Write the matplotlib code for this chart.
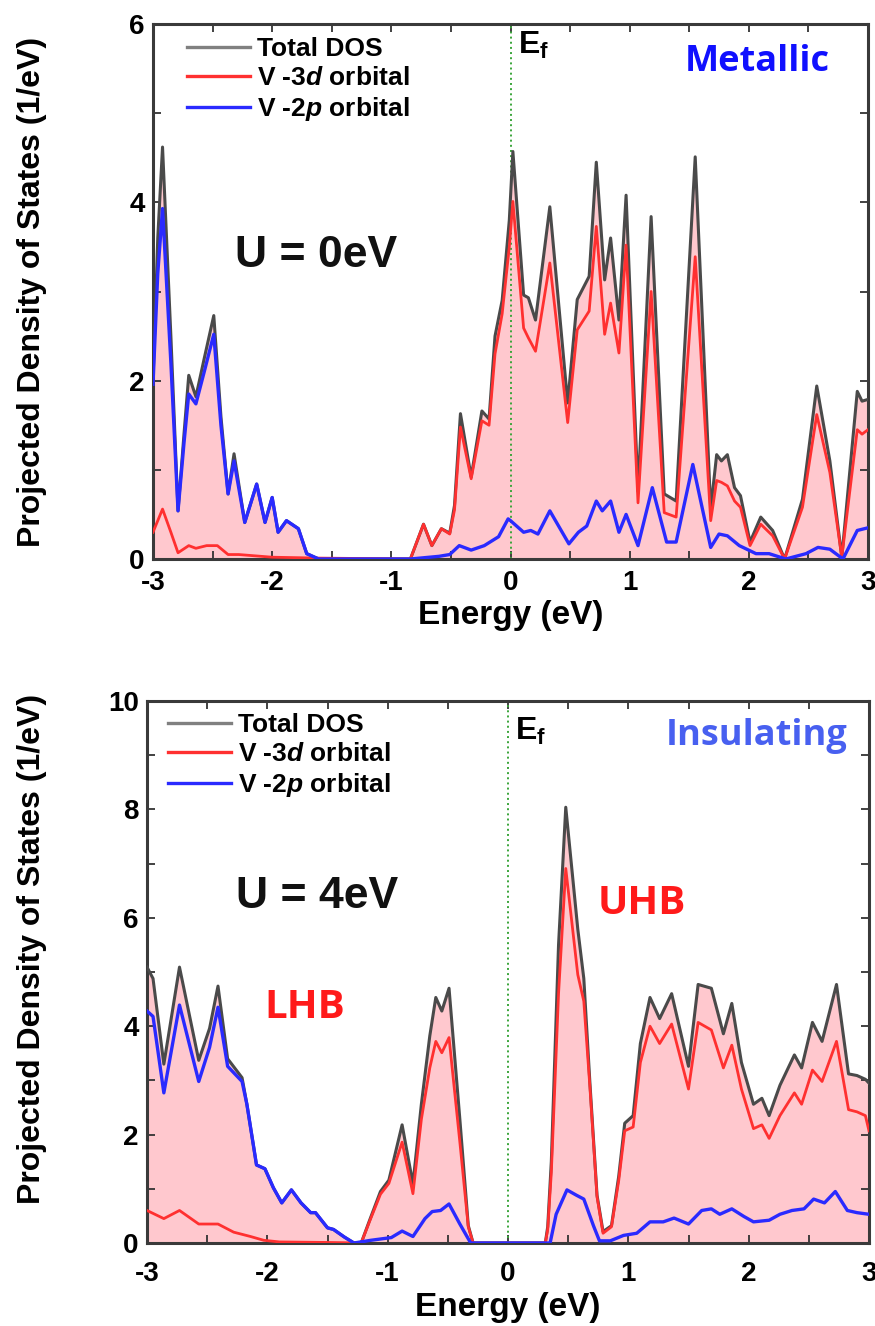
import matplotlib
matplotlib.use("Agg")
import matplotlib.pyplot as plt
from matplotlib.ticker import MultipleLocator

plt.rcParams['font.family'] = ['Liberation Sans', 'DejaVu Sans']
plt.rcParams['font.weight'] = 'bold'
plt.rcParams['mathtext.fontset'] = 'custom'
plt.rcParams['mathtext.it'] = 'Liberation Sans:italic:bold'
plt.rcParams['mathtext.rm'] = 'Liberation Sans:bold'

# ---------------- Top panel (U = 0 eV) ----------------
top_total_x = [-3.00, -2.96, -2.92, -2.85, -2.79, -2.74, -2.70, -2.64, -2.57, -2.49, -2.43, -2.37,
               -2.32, -2.23, -2.13, -2.06, -2.00, -1.95, -1.88, -1.78, -1.71, -1.61, -0.84, -0.73,
               -0.66, -0.58, -0.51, -0.47, -0.42, -0.33, -0.24, -0.18, -0.13, -0.07, -0.01, 0.02,
               0.11, 0.15, 0.21, 0.33, 0.48, 0.56, 0.66, 0.72, 0.79, 0.84, 0.91, 0.97, 1.07, 1.18,
               1.29, 1.39, 1.55, 1.68, 1.73, 1.77, 1.82, 1.88, 1.93, 2.01, 2.10, 2.20, 2.30, 2.45,
               2.57, 2.68, 2.78, 2.91, 2.95, 3.00]
top_total_y = [2.00, 3.60, 4.62, 2.50, 0.54, 1.40, 2.06, 1.82, 2.25, 2.73, 1.60, 0.73,
               1.18, 0.41, 0.84, 0.41, 0.69, 0.30, 0.43, 0.34, 0.06, 0.00, 0.00, 0.39,
               0.15, 0.34, 0.29, 0.60, 1.63, 0.92, 1.66, 1.57, 2.50, 2.90, 3.80, 4.57,
               2.96, 2.93, 2.68, 3.95, 1.75, 2.91, 3.17, 4.45, 3.13, 3.60, 2.68, 4.08, 0.76, 3.84,
               0.73, 0.65, 4.51, 0.56, 1.17, 1.10, 1.17, 0.80, 0.71, 0.19, 0.47, 0.32, 0.00, 0.67,
               1.94, 1.10, 0.02, 1.88, 1.77, 1.79]

top_d_x = [-3.00, -2.92, -2.85, -2.79, -2.70, -2.64, -2.55, -2.46, -2.37, -2.28, -2.00, -1.60,
           -0.84, -0.73, -0.66, -0.58, -0.51, -0.47, -0.42, -0.33, -0.24, -0.18, -0.13, -0.07,
           -0.01, 0.02, 0.11, 0.15, 0.21, 0.33, 0.48, 0.56, 0.66, 0.72, 0.79, 0.84, 0.91, 0.97,
           1.07, 1.18, 1.29, 1.39, 1.55, 1.68, 1.73, 1.77, 1.82, 1.88, 1.93, 2.01, 2.10, 2.20,
           2.30, 2.45, 2.57, 2.68, 2.78, 2.91, 2.95, 3.00]
top_d_y = [0.30, 0.56, 0.30, 0.07, 0.15, 0.12, 0.15, 0.15, 0.05, 0.05, 0.02, 0.01,
           0.00, 0.39, 0.15, 0.34, 0.28, 0.55, 1.48, 0.90, 1.55, 1.50, 2.30, 2.75,
           3.50, 4.01, 2.59, 2.48, 2.33, 3.32, 1.53, 2.57, 2.78, 3.73, 2.52, 2.87, 2.31, 3.52,
           0.63, 3.00, 0.52, 0.47, 3.39, 0.43, 0.88, 0.86, 0.82, 0.65, 0.58, 0.15, 0.39, 0.26,
           0.00, 0.58, 1.62, 0.97, 0.02, 1.45, 1.40, 1.45]

top_p_x = [-3.00, -2.96, -2.92, -2.85, -2.79, -2.74, -2.70, -2.64, -2.57, -2.49, -2.43, -2.37,
           -2.32, -2.23, -2.13, -2.06, -2.00, -1.95, -1.88, -1.78, -1.71, -1.61, -0.84, -0.60,
           -0.51, -0.43, -0.33, -0.22, -0.10, -0.02, 0.00, 0.11, 0.17, 0.23, 0.33, 0.49, 0.57,
           0.64, 0.72, 0.77, 0.84, 0.91, 0.97, 1.07, 1.19, 1.31, 1.39, 1.53, 1.68, 1.75, 1.82,
           1.92, 2.06, 2.17, 2.31, 2.48, 2.58, 2.68, 2.79, 2.91, 3.00]
top_p_y = [1.96, 3.20, 3.93, 2.20, 0.54, 1.30, 1.85, 1.74, 2.10, 2.52, 1.50, 0.73,
           1.10, 0.41, 0.84, 0.41, 0.69, 0.30, 0.43, 0.34, 0.06, 0.00, 0.00, 0.03,
           0.05, 0.15, 0.10, 0.15, 0.25, 0.45, 0.43, 0.30, 0.32, 0.28, 0.54, 0.17, 0.30,
           0.37, 0.65, 0.54, 0.65, 0.30, 0.50, 0.15, 0.80, 0.19, 0.19, 1.06, 0.13, 0.28, 0.26,
           0.15, 0.06, 0.06, 0.00, 0.06, 0.13, 0.11, 0.00, 0.32, 0.35]

# ---------------- Bottom panel (U = 4 eV) ----------------
bot_total_x = [-3.00, -2.95, -2.86, -2.73, -2.57, -2.48, -2.41, -2.33, -2.21, -2.17, -2.09, -2.02,
               -1.95, -1.88, -1.80, -1.72, -1.64, -1.60, -1.50, -1.45, -1.36, -1.28, -1.22, -1.15,
               -1.06, -0.99, -0.88, -0.79, -0.72, -0.65, -0.60, -0.55, -0.49, -0.40, -0.33, -0.29,
               0.31, 0.33, 0.36, 0.42, 0.48, 0.58, 0.63, 0.68, 0.74, 0.79, 0.86, 0.92, 0.97, 1.04,
               1.10, 1.18, 1.26, 1.36, 1.50, 1.58, 1.69, 1.79, 1.86, 1.94, 2.04, 2.11, 2.17, 2.26,
               2.38, 2.44, 2.53, 2.61, 2.73, 2.83, 2.90, 2.97, 3.00]
bot_total_y = [5.09, 4.88, 3.30, 5.09, 3.37, 3.96, 4.74, 3.40, 3.05, 2.56, 1.44, 1.37,
               1.02, 0.74, 0.98, 0.74, 0.56, 0.56, 0.28, 0.25, 0.11, 0.00, 0.00, 0.42,
               0.95, 1.16, 2.18, 1.09, 2.56, 3.82, 4.53, 4.28, 4.70, 2.28, 0.32, 0.00,
               0.00, 0.30, 1.50, 5.50, 8.04, 5.79, 4.88, 2.98, 0.88, 0.21, 0.32, 1.23, 2.21, 2.35,
               3.68, 4.53, 4.14, 4.60, 3.26, 4.77, 4.70, 3.86, 4.42, 3.33, 2.56, 2.67, 2.35, 2.91,
               3.47, 3.23, 4.07, 3.72, 4.77, 3.12, 3.09, 3.02, 2.95]

bot_d_x = [-3.00, -2.86, -2.73, -2.57, -2.41, -2.28, -2.14, -2.03, -1.90, -1.50, -1.22, -1.15,
           -1.06, -0.99, -0.88, -0.79, -0.72, -0.65, -0.60, -0.55, -0.49, -0.40, -0.33, -0.29,
           0.31, 0.33, 0.36, 0.42, 0.48, 0.58, 0.63, 0.68, 0.74, 0.79, 0.86, 0.92, 0.97, 1.04,
           1.10, 1.18, 1.26, 1.36, 1.50, 1.58, 1.69, 1.79, 1.86, 1.94, 2.04, 2.11, 2.17, 2.26,
           2.38, 2.44, 2.53, 2.61, 2.73, 2.83, 2.90, 2.97, 3.00]
bot_d_y = [0.60, 0.45, 0.60, 0.35, 0.35, 0.20, 0.12, 0.05, 0.02, 0.01, 0.00, 0.40,
           0.90, 1.10, 1.86, 0.91, 2.28, 3.23, 3.72, 3.51, 3.79, 1.86, 0.30, 0.00,
           0.00, 0.25, 1.30, 4.60, 6.91, 4.95, 4.46, 2.90, 0.85, 0.18, 0.30, 1.15, 2.07, 2.14,
           3.33, 4.00, 3.68, 4.04, 2.84, 4.07, 3.93, 3.23, 3.65, 2.84, 2.11, 2.18, 1.93, 2.35,
           2.77, 2.56, 3.19, 2.98, 3.72, 2.46, 2.42, 2.35, 2.07]

bot_p_x = [-3.00, -2.95, -2.86, -2.73, -2.57, -2.48, -2.41, -2.33, -2.21, -2.17, -2.09, -2.02,
           -1.95, -1.88, -1.80, -1.72, -1.64, -1.60, -1.50, -1.45, -1.36, -1.28, -1.14, -0.97,
           -0.88, -0.79, -0.69, -0.63, -0.56, -0.49, -0.40, -0.31, 0.35, 0.40, 0.49, 0.57, 0.63,
           0.71, 0.76, 0.85, 0.96, 1.07, 1.18, 1.29, 1.38, 1.50, 1.61, 1.69, 1.76, 1.86, 1.96,
           2.04, 2.17, 2.26, 2.36, 2.46, 2.54, 2.63, 2.72, 2.82, 2.90, 3.00]
bot_p_y = [4.28, 4.18, 2.77, 4.39, 2.98, 3.61, 4.35, 3.26, 2.98, 2.56, 1.44, 1.37,
           1.02, 0.74, 0.98, 0.74, 0.56, 0.56, 0.28, 0.25, 0.11, 0.00, 0.05, 0.10,
           0.22, 0.12, 0.45, 0.58, 0.60, 0.72, 0.35, 0.00, 0.00, 0.53, 0.98, 0.88, 0.81,
           0.32, 0.04, 0.04, 0.14, 0.18, 0.39, 0.39, 0.46, 0.35, 0.60, 0.63, 0.53, 0.63, 0.49,
           0.39, 0.42, 0.53, 0.60, 0.63, 0.81, 0.74, 0.95, 0.60, 0.56, 0.53]

legend_labels = ["Total DOS", "V -3$d$ orbital", "V -2$p$ orbital"]
x_ticks = [-3, -2, -1, 0, 1, 2, 3]

FILL = '#ffc8ce'
C_TOT = '#4a4a4a'
C_D = '#ff3030'
C_P = '#2a2aff'

fig = plt.figure(figsize=(8.75, 13.26), dpi=100)
ax1 = fig.add_axes([153/875, 1-559/1326, 715/875, 535/1326])
ax2 = fig.add_axes([147/875, 1-1243/1326, 722/875, 542/1326])


def draw(ax, tx, ty, dx, dy, px, py, ymax, xpad, leg_anchor, xlab_y, ylab_xy):
    ax.fill_between(tx, ty, 0, color=FILL, lw=0, zorder=1)
    ax.axvline(0, color='#3aa53a', ls=':', lw=1.4, zorder=2)
    l1, = ax.plot(tx, ty, color=C_TOT, lw=2.2, zorder=3)
    l2, = ax.plot(dx, dy, color=C_D, lw=2.0, zorder=4)
    l3, = ax.plot(px, py, color=C_P, lw=2.4, zorder=5)
    ax.set_xlim(-3, 3)
    ax.set_ylim(0, ymax)
    ax.set_xticks(x_ticks)
    ax.set_xticklabels([str(v) for v in x_ticks])
    ax.xaxis.set_minor_locator(MultipleLocator(0.5))
    ax.yaxis.set_major_locator(MultipleLocator(2))
    ax.yaxis.set_minor_locator(MultipleLocator(1))
    ax.tick_params(which='both', direction='in', top=True, right=True,
                   length=6, width=1.3, color='#333333')
    ax.tick_params(which='major', labelsize=20)
    ax.tick_params(axis='x', which='major', pad=xpad)
    ax.tick_params(axis='y', which='major', pad=6)
    for lab in ax.get_xticklabels() + ax.get_yticklabels():
        lab.set_fontweight('bold')
    for s in ax.spines.values():
        s.set_linewidth(2.2)
        s.set_color('#3a3a3a')
    ax.set_xlabel('Energy (eV)', fontsize=24, fontweight='bold', va='top')
    ax.xaxis.set_label_coords(0.5, xlab_y)
    ax.set_ylabel('Projected Density of States (1/eV)', fontsize=23, fontweight='bold')
    ax.yaxis.set_label_coords(*ylab_xy)
    leg = ax.legend([l1, l2, l3], legend_labels, loc='upper left', frameon=False,
                    prop={'weight': 'bold', 'size': 19}, handlelength=2.4,
                    handletextpad=0.27, labelspacing=0.2, borderpad=0.0,
                    borderaxespad=0.0, bbox_to_anchor=leg_anchor)
    leg.get_lines()[0].set_color('#808080')
    for ln in leg.get_lines():
        ln.set_linewidth(2.4)
    return ax


draw(ax1, top_total_x, top_total_y, top_d_x, top_d_y, top_p_x, top_p_y, 6,
     8, (0.047, 0.976), -0.077, (-0.148, 0.5))
draw(ax2, bot_total_x, bot_total_y, bot_d_x, bot_d_y, bot_p_x, bot_p_y, 10,
     13, (0.029, 0.978), -0.09, (-0.138, 0.542))

# annotations top
ax1.text(0.062, 5.93, 'E$_\\mathregular{f}$', fontsize=23, fontweight='bold', va='top', ha='left')
ax1.text(2.07, 5.57, 'Metallic', fontsize=26, fontweight='bold', color='#1010ff',
         family='Open Sans', ha='center', va='center')
ax1.text(-1.63, 3.40, 'U = 0eV', fontsize=32, fontweight='bold', ha='center', va='center',
         color='#111111')

# annotations bottom
ax2.text(0.06, 9.72, 'E$_\\mathregular{f}$', fontsize=23, fontweight='bold', va='top', ha='left')
ax2.text(2.07, 9.35, 'Insulating', fontsize=26, fontweight='bold', color='#4860f0',
         family='Open Sans', ha='center', va='center')
ax2.text(-1.59, 6.39, 'U = 4eV', fontsize=32, fontweight='bold', ha='center', va='center',
         color='#111111')
ax2.text(-1.69, 4.34, 'LHB', fontsize=29, fontweight='bold', color='#ff1a1a',
         family='Open Sans', ha='center', va='center')
ax2.text(1.11, 6.27, 'UHB', fontsize=29, fontweight='bold', color='#ff1a1a',
         family='Open Sans', ha='center', va='center')

fig.savefig('out.png', dpi=100)
